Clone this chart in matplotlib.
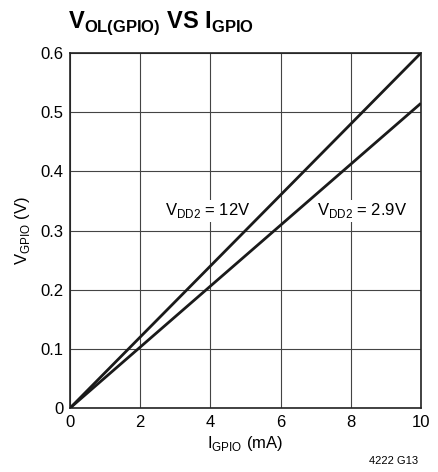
import numpy as np
from matplotlib import pyplot as plt

plt.rcParams['font.family'] = ['Liberation Sans Narrow', 'Liberation Sans', 'DejaVu Sans']

# data
i_gpio = [0, 10]
v_12v = [0, 0.6]
v_2v9 = [0, 0.515]
xticks = [0, 2, 4, 6, 8, 10]
yticks = [0, 0.1, 0.2, 0.3, 0.4, 0.5, 0.6]
yticklabels = ['0', '0.1', '0.2', '0.3', '0.4', '0.5', '0.6']

fig = plt.figure(figsize=(4.38, 4.72), dpi=100)
ax = fig.add_axes([0.160, 0.1356, 0.801, 0.7521])

ax.plot(i_gpio, v_12v, color='#1a1a1a', lw=2.0, solid_capstyle='butt', zorder=3)
ax.plot(i_gpio, v_2v9, color='#1a1a1a', lw=2.0, solid_capstyle='butt', zorder=3)

ax.set_xlim(0, 10)
ax.set_ylim(0, 0.6)
ax.set_xticks(xticks)
ax.set_yticks(yticks)
ax.set_yticklabels(yticklabels)
ax.tick_params(length=0, labelsize=12, pad=5)
ax.grid(True, color='#444444', lw=0.8)
for s in ax.spines.values():
    s.set_color('#222222')
    s.set_linewidth(1.2)

ax.set_xlabel(r'I$_{\mathregular{GPIO}}$ (mA)', fontsize=12, labelpad=3)
ax.set_ylabel(r'V$_{\mathregular{GPIO}}$ (V)', fontsize=12, labelpad=6)

ax.text(2.7, 0.333, r'V$_{\mathregular{DD2}}$ = 12V', fontsize=12, va='center', ha='left',
        bbox=dict(facecolor='white', edgecolor='none', pad=1), zorder=2)
ax.text(7.05, 0.333, r'V$_{\mathregular{DD2}}$ = 2.9V', fontsize=12, va='center', ha='left',
        bbox=dict(facecolor='white', edgecolor='none', pad=1), zorder=2)

fig.text(0.155, 0.95, r'V$_{\mathregular{OL(GPIO)}}$ VS I$_{\mathregular{GPIO}}$', fontsize=17,
         fontweight='bold', va='center', ha='left')
fig.text(0.955, 0.012, '4222 G13', fontsize=8, ha='right', va='bottom')

fig.savefig('out.png', dpi=100)
